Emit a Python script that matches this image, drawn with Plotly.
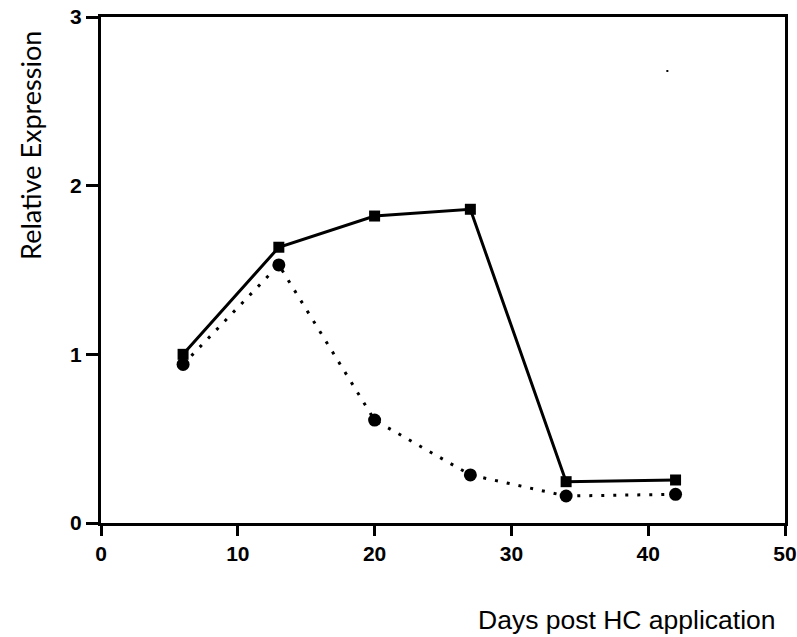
import plotly.graph_objects as go

days = [6, 13, 20, 27, 34, 42]
series_square = [1.00, 1.635, 1.82, 1.86, 0.245, 0.255]
series_circle = [0.94, 1.53, 0.61, 0.285, 0.16, 0.17]
stray_x = [41.4]
stray_y = [2.68]
x_ticks = [0, 10, 20, 30, 40, 50]
y_ticks = [0, 1, 2, 3]

fig = go.Figure()
fig.add_trace(go.Scatter(x=days, y=series_circle, mode="lines+markers",
                         line=dict(color="black", width=3, dash="3px,9px"),
                         marker=dict(symbol="circle", size=13, color="black"),
                         showlegend=False))
fig.add_trace(go.Scatter(x=days, y=series_square, mode="lines+markers",
                         line=dict(color="black", width=3),
                         marker=dict(symbol="square", size=11, color="black"),
                         showlegend=False))
fig.add_trace(go.Scatter(x=stray_x, y=stray_y, mode="markers",
                         marker=dict(symbol="square", size=2, color="black"),
                         showlegend=False))

tickfont = dict(family="Liberation Sans", size=21, color="black", weight="bold")
fig.update_layout(
    width=797, height=637,
    margin=dict(l=101, r=12, t=17, b=114),
    plot_bgcolor="white", paper_bgcolor="white",
    xaxis=dict(range=[0, 50], tickvals=x_ticks, showgrid=False, zeroline=False,
               showline=True, linecolor="black", linewidth=3, mirror=True,
               ticks="outside", ticklen=10, tickwidth=3, tickcolor="black",
               automargin=False, ticklabeloverflow="allow", tickfont=tickfont),
    yaxis=dict(range=[0, 3], tickvals=y_ticks, showgrid=False, zeroline=False,
               showline=True, linecolor="black", linewidth=3, mirror=True,
               ticks="outside", ticklen=12, tickwidth=3, tickcolor="black",
               automargin=False, ticklabeloverflow="allow", tickfont=tickfont),
    annotations=[
        dict(text="Days post HC application", xref="paper", yref="paper",
             x=1.0, y=-0.192, xanchor="right", yanchor="middle", showarrow=False,
             xshift=-7,
             font=dict(family="Liberation Sans", size=26.5, color="black")),
        dict(text="Relative Expression", xref="paper", yref="paper",
             x=-0.104, y=0.747, xanchor="center", yanchor="middle", showarrow=False,
             textangle=-90,
             font=dict(family="Lato", size=27, color="black")),
    ],
)

fig.write_html("out.html", config={"displayModeBar": False},
               post_script="document.body.style.margin='0';document.body.style.overflow='hidden';")
